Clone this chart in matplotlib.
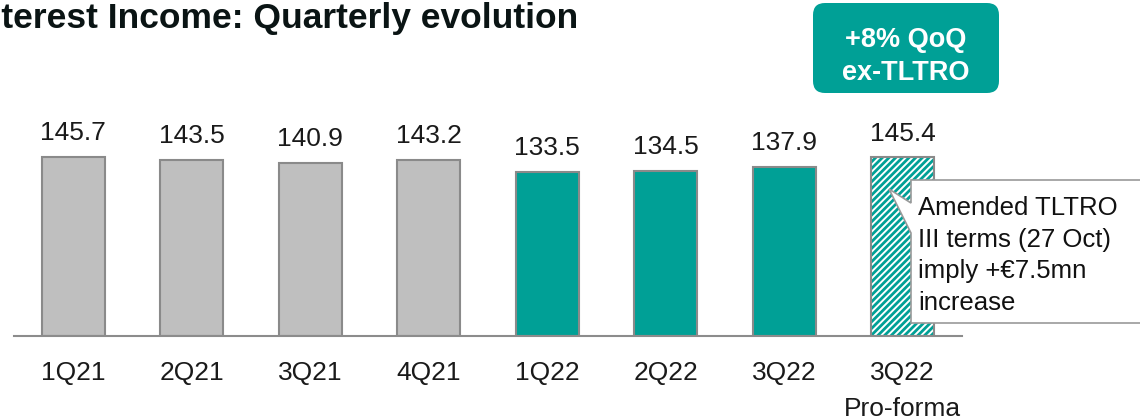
import matplotlib
matplotlib.use("Agg")
import matplotlib.pyplot as plt
from matplotlib.patches import Polygon, FancyBboxPatch
from matplotlib.transforms import IdentityTransform

plt.rcParams['font.family'] = ['Liberation Sans', 'DejaVu Sans']
plt.rcParams['hatch.linewidth'] = 2.0

categories = ["1Q21", "2Q21", "3Q21", "4Q21", "1Q22", "2Q22", "3Q22", "3Q22\nPro-forma"]
values = [145.7, 143.5, 140.9, 143.2, 133.5, 134.5, 137.9, 145.4]
value_labels = ["145.7", "143.5", "140.9", "143.2", "133.5", "134.5", "137.9", "145.4"]
kinds = ["grey", "grey", "grey", "grey", "teal", "teal", "teal", "hatch"]
badge_lines = ["+8% QoQ", "ex-TLTRO"]
callout_lines = ["Amended TLTRO", "III terms (27 Oct)", "imply +€7.5mn", "increase"]

TEAL = "#00A096"
GREY = "#BFBFBF"
EDGE = "#8A8A8A"

W, H = 1140, 420
fig = plt.figure(figsize=(W / 100, H / 100), dpi=100)
ax = fig.add_axes([14 / W, 84 / H, 948 / W, 196.6 / H])

xs = list(range(len(values)))
for x, v, k in zip(xs, values, kinds):
    if k == "hatch":
        ax.bar(x, v, width=0.53, facecolor="white", edgecolor=TEAL, hatch="/////", linewidth=0, zorder=2)
        ax.bar(x, v, width=0.53, fill=False, edgecolor=EDGE, linewidth=1.5, zorder=3)
    else:
        ax.bar(x, v, width=0.53, color=GREY if k == "grey" else TEAL, edgecolor=EDGE, linewidth=1.5, zorder=2)
    ax.annotate(value_labels[x], (x, v), xytext=(0, 12), textcoords="offset points",
                ha="center", va="baseline", fontsize=19, color="#1a1a1a")

ax.set_xlim(-0.5, 7.5)
ax.set_ylim(0, 160)
for s in ["top", "right", "left"]:
    ax.spines[s].set_visible(False)
ax.spines["bottom"].set_color("#8C8C8C")
ax.spines["bottom"].set_linewidth(1.5)
ax.set_yticks([])
ax.set_xticks(xs)
ax.set_xticklabels(categories, fontsize=19, color="#1a1a1a", linespacing=1.65)
ax.tick_params(axis="x", length=0, pad=18)

def px(x, y_top):
    return (x, H - y_top)

# Title (clipped at left edge like the reference)
fig.text(578 / W, (H - 28) / H, "Net Interest Income: Quarterly evolution", ha="right", va="baseline",
         fontsize=25.5, fontweight="bold", color="#0a1414")

# Teal badge
badge = FancyBboxPatch(px(813, 93), 186, 90, boxstyle="round,pad=0,rounding_size=12",
                       transform=IdentityTransform(), facecolor=TEAL, edgecolor="none")
fig.add_artist(badge)
for i, line in enumerate(badge_lines):
    fig.text(906 / W, (H - (47 + 33 * i)) / H, line, ha="center", va="baseline", fontsize=19.5,
             fontweight="bold", color="white")

# Callout
pts = [(911, 180), (1150, 180), (1150, 323), (911, 323), (911, 233), (889, 189), (911, 203)]
poly = Polygon([px(a, b) for a, b in pts], closed=True, transform=IdentityTransform(),
               facecolor="white", edgecolor="#9A9A9A", linewidth=1.2, zorder=5)
fig.add_artist(poly)
for i, line in enumerate(callout_lines):
    fig.text(918 / W, (H - (215 + 31.7 * i)) / H, line, ha="left", va="baseline",
             fontsize=18.5, color="#111111", zorder=6)

fig.savefig("out.png", dpi=100)
